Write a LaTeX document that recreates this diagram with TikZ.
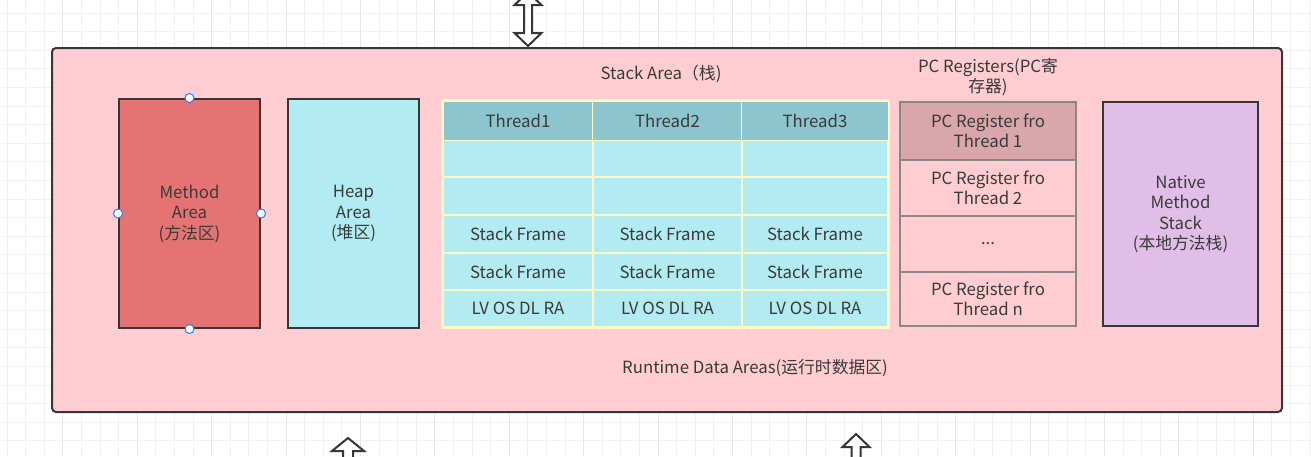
\documentclass[tikz,border=0pt]{standalone}
\usepackage{fontspec}
\setmainfont{Noto Sans CJK SC}
\usetikzlibrary{calc,positioning}
\definecolor{runpink}{HTML}{FFCDD2}
\definecolor{methodred}{HTML}{E57373}
\definecolor{heapblue}{HTML}{B2EBF2}
\definecolor{headteal}{HTML}{8CC5CD}
\definecolor{cellline}{HTML}{FFF9C4}
\definecolor{pcdark}{HTML}{D9A6AB}
\definecolor{pcline}{HTML}{888888}
\definecolor{nativepurple}{HTML}{E1BEE7}
\definecolor{boxline}{HTML}{363636}
\definecolor{txt}{HTML}{3A3A3A}
\definecolor{handleblue}{HTML}{2F7DF2}
\definecolor{gridminor}{HTML}{F1F1F1}
\definecolor{gridmajor}{HTML}{E6E6E6}
\newcommand{\openuparrow}[4]{
	\draw[blockarrow] (#1,#2) -- ++(#3,13) -- ++(-#3+#4,0) -- (#1+#4,470)
		-- (#1-#4,470) -- (#1-#4,#2+13) -- (#1-#3,#2+13) -- cycle;
}

\begin{document}
\begin{tikzpicture}[x=1pt,y=-1pt,
	every node/.style={font=\fontsize{16.8}{20.5}\selectfont, text=txt},
	box/.style={draw=boxline, line width=2pt, align=center, inner sep=0pt},
	cell/.style={draw=cellline, line width=1.5pt, fill=heapblue, inner sep=0pt},
	pcrow/.style={draw=pcline, line width=2pt, align=center, inner sep=0pt, outer sep=0pt, minimum width=176pt},
	handle/.style={circle, draw=handleblue, fill=white, line width=1pt, minimum size=9pt, inner sep=0pt},
	blockarrow/.style={draw=boxline, fill=white, line width=2pt},
	areatext/.style={align=center}]
	\useasboundingbox (0,0) rectangle (1311,456);
	\clip (0,0) rectangle (1311,456);

	% background grid
	\foreach \i in {0,...,70}
		\draw[gridminor, line width=1pt] ({7+18.6*\i},0) -- ({7+18.6*\i},456);
	\foreach \i in {0,...,24}
		\draw[gridminor, line width=1pt] (0,{13+18.6*\i}) -- (1311,{13+18.6*\i});
	\foreach \i in {0,...,17}
		\draw[gridmajor, line width=1pt] ({62.8+74.4*\i},0) -- ({62.8+74.4*\i},456);

	% runtime data areas
	\node[draw=boxline, line width=2pt, fill=runpink, rounded corners=4pt,
		minimum width=1230pt, minimum height=364pt, anchor=north west] (rda) at (51,47) {};
	\node[areatext] (rdatitle) at (755,368) {Runtime Data Areas(运行时数据区)};

	% method area and heap
	\node[box, fill=methodred, minimum width=141pt, minimum height=229pt] (method) at (189.5,213.5) {Method\\Area\\(方法区)};
	\foreach \a in {north,west,east,south}
		\node[handle] (method-\a) at (method.\a) {};
	\node[box, fill=heapblue, minimum width=131pt, minimum height=229pt] (heap) at (353.5,213.5) {Heap\\Area\\(堆区)};

	% stack area
	\node[areatext] (stacktitle) at (661,74) {Stack Area（栈)};
	\foreach \c/\xa/\xb in {1/443/593,2/593/742,3/742/888}{
		\pgfmathsetmacro\w{\xb-\xa}
		\foreach \r/\ya/\yb/\txt in {1/101/140/Thread\c,2/140/177/,3/177/215/,4/215/253/Stack Frame,5/253/290/Stack Frame,6/290/327/LV OS DL RA}{
			\pgfmathsetmacro\h{\yb-\ya}
			\node[cell, minimum width=\w pt, minimum height=\h pt] (t\c-\r) at ({(\xa+\xb)/2},{(\ya+\yb)/2}) {\txt};
		}
		\fill[headteal] ($(t\c-1.north west)+(0.75,0.75)$) rectangle ($(t\c-1.south east)+(-0.75,-0.75)$);
		\node at (t\c-1) {Thread\c};
	}
	\draw[cellline, line width=2.5pt] (t1-1.north west) rectangle (t3-6.south east);

	% pc registers
	\node[areatext] (pctitle) at (988,77) {PC Registers(PC寄\\存器)};
	\node[pcrow, fill=pcdark, minimum height=58pt, anchor=north] (pc1) at (988,102) {PC Register fro\\Thread 1};
	\node[pcrow, minimum height=56pt, below=0pt of pc1] (pc2) {PC Register fro\\Thread 2};
	\node[pcrow, minimum height=56pt, below=0pt of pc2] (pc3) {...};
	\node[pcrow, minimum height=54pt, below=0pt of pc3] (pc4) {PC Register fro\\Thread n};

	% native method stack
	\node[box, fill=nativepurple, minimum width=155pt, minimum height=224pt] (native) at (1180.5,214) {Native\\Method\\Stack\\(本地方法栈)};

	% arrows in and out
	\draw[blockarrow] (528,-8) -- (541.5,5) -- (532,5) -- (532,33) -- (541.5,33) -- (528,46)
		-- (514.5,33) -- (524,33) -- (524,5) -- (514.5,5) -- cycle;
	\openuparrow{348}{438}{16}{5}
	\openuparrow{856}{434}{13.5}{4.5}
\end{tikzpicture}
\end{document}
